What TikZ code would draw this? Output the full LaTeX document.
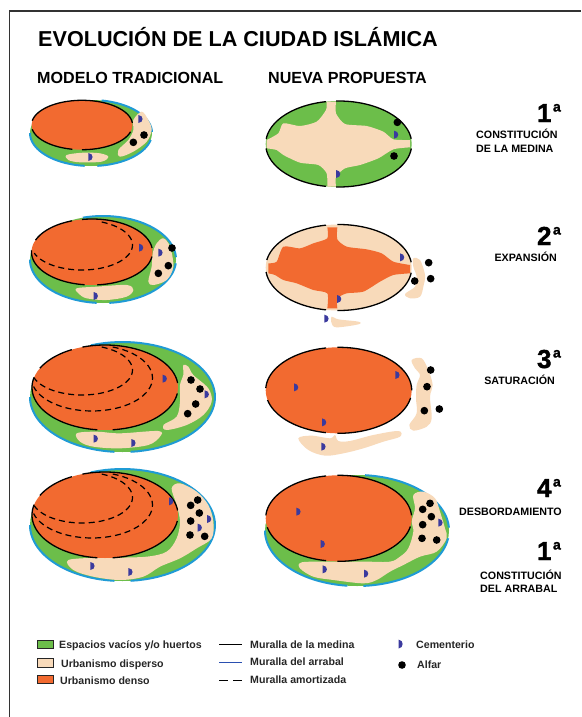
\documentclass[tikz,border=0pt]{standalone}
\usepackage{fontspec}
\setmainfont{Liberation Sans}
\definecolor{verde}{HTML}{6CBE4A}
\definecolor{crema}{HTML}{F8DABA}
\definecolor{naranja}{HTML}{F26A30}
\definecolor{celeste}{HTML}{1F9BD5}
\definecolor{azulleg}{HTML}{2A4FB0}
\definecolor{cemc}{HTML}{3B3A9E}
\tikzset{
  wallm/.style={draw=black,line width=1.3pt},
  walla/.style={draw=celeste,line width=2pt},
  amort/.style={draw=black,line width=1.2pt,dash pattern=on 6pt off 4pt},
  za/.style={shift={(20,90)},scale=1/3},
  zb/.style={shift={(250,90)},scale=1/3},
  zc/.style={shift={(20,335)},scale=1/3},
  zd/.style={shift={(250,335)},scale=1/3},
  titulo/.style={anchor=base west,inner sep=0pt,font=\bfseries\fontsize{21.6}{24}\selectfont},
  subt/.style={anchor=base west,inner sep=0pt,font=\bfseries\fontsize{16.1}{18}\selectfont},
  etapa/.style={anchor=base east,inner sep=0pt,font=\bfseries\fontsize{10.7}{12}\selectfont},
  leg/.style={anchor=base west,inner sep=0pt,font=\bfseries\fontsize{10.6}{12}\selectfont,text=black!85},
  muestra/.style={draw=black!85,line width=1pt,minimum width=16pt,minimum height=8.5pt,inner sep=0pt}
}
% arc of an ellipse: style,cx,cy,rx,ry,from,to
\newcommand\arco[7]{\draw[#1] plot[domain=#6:#7,samples=45] ({#2+#4*cos(\x)},{#3+#5*sin(\x)});}
\newcommand\llena[5]{\fill[#1] (#2,#3) ellipse [x radius=#4,y radius=#5];}
\newcommand\mancha[2]{\fill[#1] plot[smooth cycle,tension=0.55] coordinates {#2};}
\newcommand\cems[1]{\foreach \cx/\cy in {#1}{\fill[cemc] ({\cx-5},{\cy-12}) .. controls +(17,1) and +(17,-1) .. ({\cx-5},{\cy+12}) -- cycle;}}
\newcommand\alfares[1]{\foreach \cx/\cy in {#1}{\fill[black] (\cx,\cy) circle [radius=11.5];}}
\newcommand\numero[3]{\node[anchor=base east,inner sep=0pt] (#1) at (561,#2) {\bfseries\addfontfeature{FakeBold=1.5}\fontsize{26}{28}\selectfont #3\hspace{1.5pt}\raisebox{10.5pt}{\fontsize{14}{14}\selectfont a}};}
\begin{document}
\begin{tikzpicture}[x=1pt,y=-1pt]
\useasboundingbox (0,0) rectangle (581,717);
\fill[white] (0,0) rectangle (581,717);
\draw[black!80,line width=1.8pt] (9.5,717) -- (9.5,11) -- (581,11);

% titles
\node[titulo] (t0) at (38,47) {EVOLUCIÓN DE LA CIUDAD ISLÁMICA};
\node[subt] (t1) at (37,83.5) {MODELO TRADICIONAL};
\node[subt] (t2) at (268,83.5) {NUEVA PROPUESTA};

% ---------- left column, row 1
\llena{verde}{91}{133}{61}{33}
\arco{walla}{91}{133}{61}{33}{-80}{-2}
\arco{walla}{91}{133}{61}{33}{12}{84}
\arco{walla}{91}{133}{61}{33}{96}{180}
\begin{scope}[za]
\mancha{crema}{(340,90)(365,65)(385,90)(395,120)(380,155)(340,185)(300,200)(295,180)(325,150)(340,120)}
\mancha{crema}{(140,195)(190,188)(240,190)(265,200)(245,215)(180,217)(145,210)}
\alfares{372/135,340/157}
\cems{360/87,210/201}
\end{scope}
\llena{naranja}{82}{125}{50.5}{24.7}
\arco{wallm}{82}{125}{50.5}{24.7}{-104}{-5}
\arco{wallm}{82}{125}{50.5}{24.7}{16}{90}
\arco{wallm}{82}{125}{50.5}{24.7}{101}{170}
\arco{wallm}{82}{125}{50.5}{24.7}{190}{256}

% ---------- left column, row 2
\llena{verde}{103}{259.5}{73}{43.5}
\arco{walla}{103}{259.5}{73}{43.5}{-106}{-3}
\arco{walla}{103}{259.5}{73}{43.5}{5}{85}
\arco{walla}{103}{259.5}{73}{43.5}{95}{180}
\begin{scope}[za]
\mancha{crema}{(410,460)(430,445)(450,470)(460,530)(440,570)(400,585)(385,575)(395,530)(398,490)}
\mancha{crema}{(170,595)(230,590)(320,585)(340,600)(320,620)(260,630)(200,625)(175,610)}
\end{scope}
\llena{naranja}{92}{252}{60.5}{33}
\arco{wallm}{92}{252}{60.5}{33}{-99.5}{-7}
\arco{wallm}{92}{252}{60.5}{33}{8}{85}
\arco{wallm}{92}{252}{60.5}{33}{97}{183}
\arco{wallm}{92}{252}{60.5}{33}{201}{250.7}
\arco{amort}{82}{245}{50.5}{25}{-67}{161}
\begin{scope}[za]
\alfares{456/474,445/527,415/550}
\cems{362/473,420/488,226/618}
\end{scope}

% ---------- left column, row 3
\llena{verde}{122.5}{397}{92.5}{55}
\arco{walla}{122.5}{397}{92.5}{55}{-110}{85}
\arco{walla}{122.5}{397}{92.5}{55}{95}{180}
\begin{scope}[zc]
\mancha{crema}{(490,90)(505,95)(520,120)(565,160)(575,200)(550,240)(500,270)(440,285)(430,270)(470,245)(480,200)(480,150)(490,120)}
\mancha{crema}{(170,295)(230,290)(300,295)(415,288)(420,305)(385,330)(300,340)(220,335)(180,320)}
\end{scope}
\llena{naranja}{105}{387.5}{73}{42.5}
\arco{wallm}{105}{387.5}{73}{42.5}{-108}{-6}
\arco{wallm}{105}{387.5}{73}{42.5}{8}{84}
\arco{wallm}{105}{387.5}{73}{42.5}{96}{194}
\arco{wallm}{105}{387.5}{73}{42.5}{207}{243}
\arco{amort}{82}{370}{50.5}{25}{-67}{161}
\arco{amort}{92}{378}{60.5}{33}{-70}{165}
\begin{scope}[zc]
\alfares{513/135,540/162,527/207,503/236}
\cems{433/131,559/178,226/311,339/324}
\end{scope}

% ---------- left column, row 4
\llena{verde}{122.5}{525}{92.5}{56}
\arco{walla}{122.5}{525}{92.5}{56}{-110}{85}
\arco{walla}{122.5}{525}{92.5}{56}{95}{180}
\begin{scope}[zc]
\mancha{crema}{(455,460)(480,445)(530,470)(565,510)(580,560)(575,610)(530,640)(480,670)(420,695)(370,725)(300,735)(220,725)(160,705)(145,675)(240,668)(280,668)(380,665)(440,650)(470,610)(480,560)(470,510)}
\end{scope}
\llena{naranja}{105}{515}{73}{43}
\arco{wallm}{105}{515}{73}{43}{-108}{-6}
\arco{wallm}{105}{515}{73}{43}{8}{84}
\arco{wallm}{105}{515}{73}{43}{96}{194}
\arco{wallm}{105}{515}{73}{43}{207}{243}
\arco{amort}{82}{497.5}{50.5}{25.5}{-67}{161}
\arco{amort}{92}{505}{60.5}{33}{-70}{165}
\begin{scope}[zc]
\alfares{533/495,512/511,538/534,512/558,510/600,554/604}
\cems{452/499,566/552,538/578,216/693,330/711}
\end{scope}

% ---------- right column, row 1
\llena{verde}{338.7}{144}{73}{43}
\begin{scope}[zb]
\fill[crema] plot[smooth,tension=0.4] coordinates {(50,150)(85,130)(100,100)(150,108)(200,95)(228,60)(230,35)} -- plot[smooth,tension=0.4] coordinates {(258,35)(258,70)(285,102)(350,108)(400,125)(430,148)(480,150)} -- plot[smooth,tension=0.4] coordinates {(480,172)(430,178)(385,205)(330,225)(285,235)(258,260)(258,290)} -- plot[smooth,tension=0.4] coordinates {(232,290)(230,250)(205,225)(150,218)(100,195)(80,180)(50,175)} -- cycle;
\alfares{442/97,432/198}
\cems{437/134,263/252}
\end{scope}
\arco{wallm}{338.7}{144}{73}{43}{-92}{-7}
\arco{wallm}{338.7}{144}{73}{43}{6}{92}
\arco{wallm}{338.7}{144}{73}{43}{100}{174}
\arco{wallm}{338.7}{144}{73}{43}{187}{260}

% ---------- right column, row 2
\llena{crema}{338.7}{267.5}{73}{43}
\begin{scope}[zb]
\fill[naranja] plot[smooth,tension=0.4] coordinates {(55,520)(80,515)(100,470)(150,475)(190,460)(232,445)(232,412)} -- plot[smooth,tension=0.4] coordinates {(262,412)(262,448)(290,470)(350,478)(395,490)(430,515)(480,525)} -- plot[smooth,tension=0.4] coordinates {(480,550)(430,555)(390,575)(340,605)(290,610)(262,625)(262,655)} -- plot[smooth,tension=0.4] coordinates {(232,655)(232,610)(190,600)(140,580)(100,570)(75,555)(55,550)} -- cycle;
\mancha{crema}{(490,505)(510,510)(525,555)(520,590)(510,620)(480,625)(465,612)(495,590)(500,560)(490,530)}
\mancha{crema}{(245,680)(265,688)(325,695)(325,703)(260,712)(245,700)}
\alfares{536/518,542/566,494/573}
\cems{455/502,266/627,228/686}
\end{scope}
\arco{wallm}{338.7}{267.5}{73}{43}{-91}{-7}
\arco{wallm}{338.7}{267.5}{73}{43}{7}{91}
\arco{wallm}{338.7}{267.5}{73}{43}{100}{174}
\arco{wallm}{338.7}{267.5}{73}{43}{190}{260}

% ---------- right column, row 3
\llena{naranja}{338.7}{390.3}{73}{43}
\begin{scope}[zd]
\mancha{crema}{(485,75)(515,70)(535,105)(548,150)(540,185)(545,250)(530,275)(490,287)(478,270)(500,235)(498,190)(500,150)(510,120)(495,100)}
\mancha{crema}{(145,310)(185,302)(240,310)(255,300)(265,318)(300,318)(370,300)(445,288)(450,305)(400,320)(340,340)(280,355)(225,362)(175,345)}
\alfares{542/105,531/155,523/227,568/222}
\cems{137/157,441/120,221/262,219/335}
\end{scope}
\arco{wallm}{338.7}{390.3}{73}{43}{-91}{0}
\arco{wallm}{338.7}{390.3}{73}{43}{10}{91}
\arco{wallm}{338.7}{390.3}{73}{43}{100}{167}
\arco{wallm}{338.7}{390.3}{73}{43}{183}{260}

% ---------- right column, row 4
\llena{verde}{357}{530.5}{92}{55.5}
\arco{walla}{357}{530.5}{92}{55.5}{-85}{-3}
\arco{walla}{357}{530.5}{92}{55.5}{8}{86}
\arco{walla}{357}{530.5}{92}{55.5}{96}{180}
\begin{scope}[zd]
\mancha{crema}{(490,480)(520,470)(555,490)(570,530)(585,580)(590,610)(560,650)(510,665)(460,690)(420,710)(380,735)(340,745)(250,735)(190,725)(150,700)(155,682)(230,680)(262,680)(350,680)(420,680)(450,665)(475,640)(490,590)(485,560)(495,520)}
\end{scope}
\llena{naranja}{338.7}{518.3}{73}{43}
\arco{wallm}{338.7}{518.3}{73}{43}{-91}{-4}
\arco{wallm}{338.7}{518.3}{73}{43}{11}{91}
\arco{wallm}{338.7}{518.3}{73}{43}{100}{168}
\arco{wallm}{338.7}{518.3}{73}{43}{184}{260}
\begin{scope}[zd]
\alfares{540/505,518/523,544/545,518/569,516/610,560/615}
\cems{144/530,217/627,223/703,347/716,570/563}
\end{scope}

% ---------- stage labels
\numero{n1}{122}{1}
\node[etapa,anchor=base west] (e1a) at (476,138) {CONSTITUCIÓN};
\node[etapa,anchor=base west] (e1b) at (476,152) {DE LA MEDINA};
\numero{n2}{245}{2}
\node[etapa] (e2) at (557,261) {EXPANSIÓN};
\numero{n3}{368}{3}
\node[etapa] (e3) at (555,384) {SATURACIÓN};
\numero{n4}{497}{4}
\node[etapa] (e4) at (562,515) {DESBORDAMIENTO};
\numero{n5}{560}{1}
\node[etapa,anchor=base west] (e5a) at (480,579) {CONSTITUCIÓN};
\node[etapa,anchor=base west] (e5b) at (480,592) {DEL ARRABAL};

% ---------- legend
\node[muestra,fill=verde] (s1) at (45.5,644.5) {};
\node[muestra,fill=crema] (s2) at (45.5,663) {};
\node[muestra,fill=naranja] (s3) at (45.5,679.5) {};
\node[leg] (l1) at (59,648) {Espacios vacíos y/o huertos};
\node[leg] (l2) at (61,667) {Urbanismo disperso};
\node[leg] (l3) at (60,684) {Urbanismo denso};
\coordinate (a1) at (219,644); \coordinate (b1) at (242,644);
\coordinate (a2) at (219,662); \coordinate (b2) at (242,662);
\coordinate (a3) at (219,680); \coordinate (b3) at (242,680);
\draw[black,line width=1pt] (a1) -- (b1);
\draw[azulleg,line width=1pt] (a2) -- (b2);
\draw[black,line width=1pt,dash pattern=on 9pt off 5pt] (a3) -- (b3);
\node[leg] (l4) at (250,648) {Muralla de la medina};
\node[leg] (l5) at (250,665.5) {Muralla del arrabal};
\node[leg] (l6) at (250,683) {Muralla amortizada};
\fill[cemc] (398.5,639.5) .. controls +(5.5,.5) and +(5.5,-.5) .. (398.5,648.5) -- cycle;
\fill[black] (402,665) circle [radius=3.8];
\node[leg] (l7) at (416,648) {Cementerio};
\node[leg] (l8) at (417,668) {Alfar};
\end{tikzpicture}
\end{document}
